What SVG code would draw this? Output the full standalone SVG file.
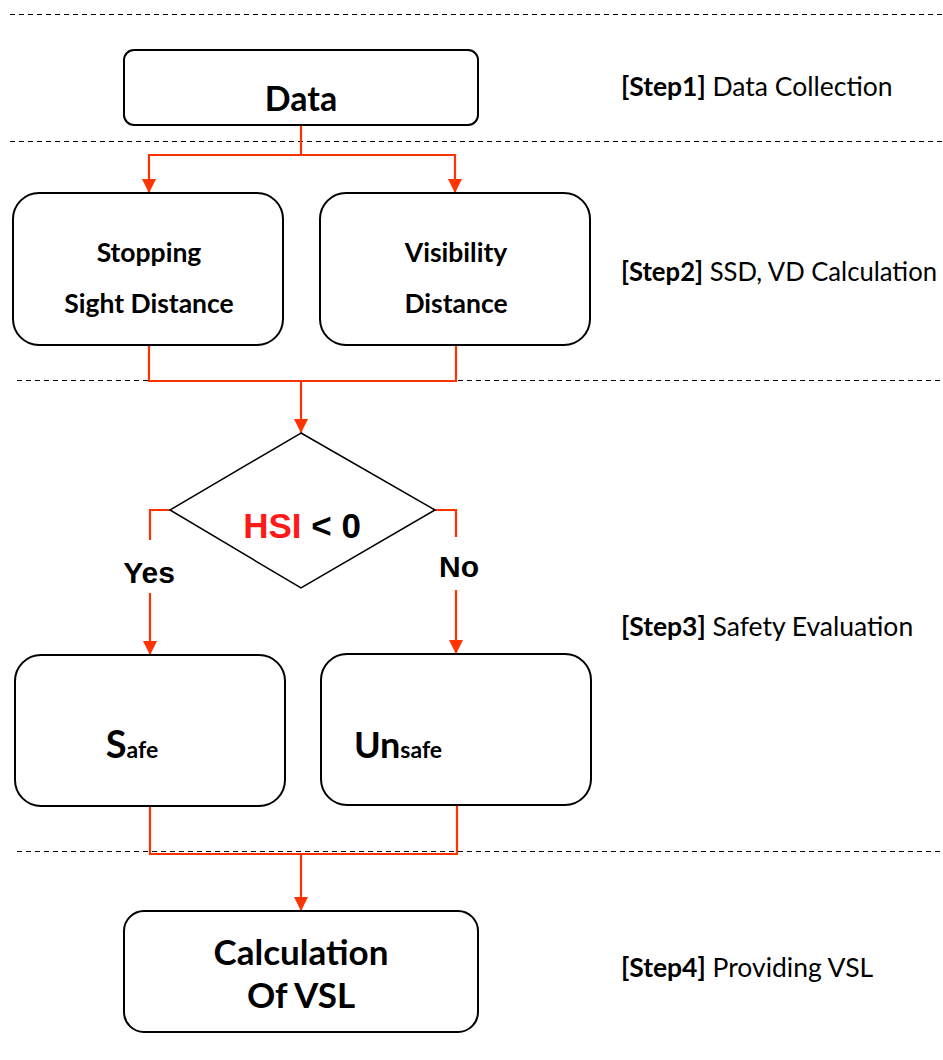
<svg xmlns="http://www.w3.org/2000/svg" width="943" height="1060" viewBox="0 0 943 1060">
<style>
.dash{stroke:#000;stroke-width:1;stroke-dasharray:5 4;fill:none}
.box{fill:#fff;stroke:#000;stroke-width:2}
.con{stroke:#FF3300;stroke-width:2.2;fill:none}
.c{font-family:Lato,"Open Sans",sans-serif;font-weight:bold;fill:#000;text-anchor:middle}
.a{font-family:"Liberation Sans",Arial,sans-serif;font-weight:bold;fill:#000;text-anchor:middle}
.step{font-family:Lato,"Open Sans",sans-serif;font-size:26.5px;fill:#000}
</style>
<defs>
<marker id="ah" viewBox="0 0 10 10" refX="10" refY="5" markerWidth="15" markerHeight="14" markerUnits="userSpaceOnUse" orient="auto">
<path d="M0,0 L10,5 L0,10 z" fill="#FF3300"/>
</marker>
</defs>
<g id="dividers">
<line class="dash" x1="10" y1="14.5" x2="943" y2="14.5"/>
<line class="dash" x1="10" y1="141.5" x2="943" y2="141.5"/>
<line class="dash" x1="17" y1="380.5" x2="943" y2="380.5"/>
<line class="dash" x1="17" y1="851.5" x2="943" y2="851.5"/>
</g>
<g id="connectors">
<polyline class="con" points="301,125 301,155"/>
<polyline class="con" points="149,155 149,193" marker-end="url(#ah)"/>
<polyline class="con" points="455,155 455,193" marker-end="url(#ah)"/>
<line class="con" x1="148" y1="155" x2="456" y2="155"/>
<polyline class="con" points="149,345 149,381 456,381 456,345"/>
<polyline class="con" points="301,381 301,433" marker-end="url(#ah)"/>
<polyline class="con" points="170,510 150,510 150,540"/>
<polyline class="con" points="150,593 150,655" marker-end="url(#ah)"/>
<polyline class="con" points="435,510 456,510 456,537"/>
<polyline class="con" points="456,590 456,654" marker-end="url(#ah)"/>
<polyline class="con" points="150,806 150,854 457,854 457,805"/>
<polyline class="con" points="301,854 301,911" marker-end="url(#ah)"/>
</g>
<g id="data">
<rect class="box" x="124" y="50" width="354" height="75" rx="10"/>
<text class="c" x="301" y="111" font-size="34">Data</text>
</g>
<g id="ssd">
<rect class="box" x="13" y="193" width="270" height="152" rx="26"/>
<text class="c" x="149" y="262" font-size="26.5">Stopping</text>
<text class="c" x="149" y="313" font-size="26.5">Sight Distance</text>
</g>
<g id="vd">
<rect class="box" x="320" y="193" width="270" height="152" rx="26"/>
<text class="c" x="456" y="262" font-size="26.5">Visibility</text>
<text class="c" x="456" y="313" font-size="26.5">Distance</text>
</g>
<g id="hsi">
<polygon points="301,433 435,510 301,588 170,510" fill="#fff" stroke="#000" stroke-width="1.5"/>
<text class="a" x="302" y="538" font-size="35"><tspan fill="#FF1A1A">HSI</tspan> &lt; 0</text>
</g>
<g id="yes"><text class="a" x="149" y="583" font-size="30">Yes</text></g>
<g id="no"><text class="a" x="459" y="577" font-size="30">No</text></g>
<g id="safe">
<rect class="box" x="15" y="655" width="270" height="151" rx="26"/>
<text class="c" x="132" y="758"><tspan font-size="38">S</tspan><tspan font-size="23">afe</tspan></text>
</g>
<g id="unsafe">
<rect class="box" x="321" y="654" width="270" height="151" rx="26"/>
<text class="c" x="398" y="758"><tspan font-size="36">Un</tspan><tspan font-size="23">safe</tspan></text>
</g>
<g id="calc">
<rect class="box" x="124" y="911" width="354" height="121" rx="20"/>
<text class="c" x="301" y="965" font-size="35">Calculation</text>
<text class="c" x="301" y="1008" font-size="35">Of VSL</text>
</g>
<g id="steps">
<text class="step" x="621" y="96"><tspan font-weight="bold">[Step1]</tspan> Data Collection</text>
<text class="step" x="621" y="281" font-size="25.5" textLength="316" lengthAdjust="spacingAndGlyphs"><tspan font-weight="bold">[Step2]</tspan> SSD, VD Calculation</text>
<text class="step" x="621" y="636"><tspan font-weight="bold">[Step3]</tspan> Safety Evaluation</text>
<text class="step" x="621" y="977"><tspan font-weight="bold">[Step4]</tspan> Providing VSL</text>
</g>
</svg>
